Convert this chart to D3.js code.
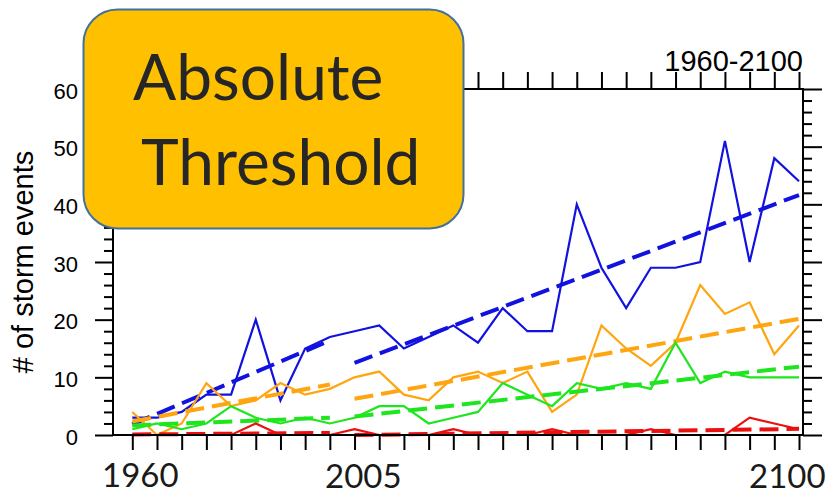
<!DOCTYPE html>
<html>
<head>
<meta charset="utf-8">
<script src="https://cdn.jsdelivr.net/npm/d3@7"></script>
<style>
  html, body { margin: 0; padding: 0; background: #fff; }
  svg { display: block; }
</style>
</head>
<body>
<svg id="chart" width="830" height="494"></svg>
<script>
// ---------- data ----------
const periods = [1960, 1965, 1970, 1975, 1980, 1985, 1990, 1995, 2000, 2005,
                 2010, 2015, 2020, 2025, 2030, 2035, 2040, 2045, 2050, 2055,
                 2060, 2065, 2070, 2075, 2080, 2085, 2090, 2095];
const blueValues   = [3, 3, 4, 7, 7, 20, 6, 15, 17, 18, 19, 15, 17, 19, 16, 22, 18, 18, 40, 29, 22, 29, 29, 30, 51, 30, 48, 44];
const orangeValues = [4, 0, 2, 9, 5, 6, 9, 7, 8, 10, 11, 7, 6, 10, 11, 9, 11, 4, 7, 19, 15, 12, 16, 26, 21, 23, 14, 19];
const greenValues  = [1, 2, 1, 2, 5, 3, 2, 3, 2, 3, 5, 5, 2, 3, 4, 9, 7, 5, 9, 8, 9, 8, 16, 9, 11, 10, 10, 10];
const redValues    = [0, 0, 0, 0, 0, 2, 0, 0, 0, 1, 0, 0, 0, 1, 0, 0, 0, 1, 0, 0, 0, 1, 0, 0, 0, 3, 2, 1];
const trendSegments = [[1960, 2000], [2005, 2095]];   // fitted separately
const yMajorTicks = [0, 10, 20, 30, 40, 50, 60];
const yMinorTicks = [2, 4, 6, 8, 12, 14, 16, 18, 22, 24, 26, 28, 32, 34, 36, 38, 42, 44, 46, 48, 52, 54, 56, 58];
const titleText = "1960-2100";
const yTitle = "# of storm events";
const boxLines = ["Absolute", "Threshold"];
const yearLabels = ["1960", "2005", "2100"];

const series = [
  { name: "blue",   values: blueValues,   color: "#1212e0" },
  { name: "orange", values: orangeValues, color: "#ffa510" },
  { name: "green",  values: greenValues,  color: "#1ee61e" },
  { name: "red",    values: redValues,    color: "#ea1010" }
];

// ---------- layout ----------
const svg = d3.select("#chart");
const frame = { left: 113, right: 803, top: 89, bottom: 435 };
const x = d3.scaleLinear().domain([1960, 2095]).range([132.3, 799]);
const y = d3.scaleLinear().domain([0, 60]).range([frame.bottom, frame.top]);
const numFont = "'Liberation Sans', Arial, Helvetica, sans-serif";
const pptFont = "Lato, 'Open Sans', sans-serif";

// least-squares fit for a period segment
function fit(values, seg) {
  const pts = periods.map((p, i) => [p, values[i]]).filter(d => d[0] >= seg[0] && d[0] <= seg[1]);
  const mx = d3.mean(pts, d => d[0]), my = d3.mean(pts, d => d[1]);
  const sxy = d3.sum(pts, d => (d[0] - mx) * (d[1] - my));
  const sxx = d3.sum(pts, d => (d[0] - mx) ** 2);
  const b = sxy / sxx, a = my - b * mx;
  return [[seg[0], a + b * seg[0]], [seg[1], a + b * seg[1]]];
}

const line = d3.line().x(d => x(d[0])).y(d => y(d[1]));

// series: solid data lines and dashed trends
const gData = svg.append("g");
series.forEach(s => {
  gData.append("path")
    .datum(periods.map((p, i) => [p, s.values[i]]))
    .attr("d", line)
    .attr("fill", "none")
    .attr("stroke", s.color)
    .attr("stroke-width", 2.2)
    .attr("stroke-linejoin", "miter");
  trendSegments.forEach(seg => {
    gData.append("path")
      .datum(fit(s.values, seg))
      .attr("d", line)
      .attr("fill", "none")
      .attr("stroke", s.color)
      .attr("stroke-width", 4)
      .attr("stroke-dasharray", "19,8");
  });
});

// frame
svg.append("rect")
  .attr("x", frame.left).attr("y", frame.top)
  .attr("width", frame.right - frame.left).attr("height", frame.bottom - frame.top)
  .attr("fill", "none").attr("stroke", "#000").attr("stroke-width", 2);

function styleAxis(g) {
  g.select(".domain").remove();
  g.selectAll(".tick line").attr("stroke", "#000").attr("stroke-width", 2);
}

// left axis
svg.append("g").attr("transform", `translate(${frame.left},0)`)
  .call(d3.axisLeft(y).tickValues(yMajorTicks).tickSize(18).tickPadding(17).tickFormat(d3.format("d")))
  .call(styleAxis)
  .call(g => g.selectAll(".tick text")
    .attr("font-family", numFont).attr("font-size", 22).attr("fill", "#000").attr("dy", "0.42em"));
svg.append("g").attr("transform", `translate(${frame.left},0)`)
  .call(d3.axisLeft(y).tickValues(yMinorTicks).tickSize(9).tickFormat(""))
  .call(styleAxis);

// right axis
svg.append("g").attr("transform", `translate(${frame.right},0)`)
  .call(d3.axisRight(y).tickValues(yMajorTicks).tickSize(19).tickFormat(""))
  .call(styleAxis);
svg.append("g").attr("transform", `translate(${frame.right},0)`)
  .call(d3.axisRight(y).tickValues(yMinorTicks).tickSize(9).tickFormat(""))
  .call(styleAxis);

// bottom & top axes
svg.append("g").attr("transform", `translate(0,${frame.bottom})`)
  .call(d3.axisBottom(x).tickValues(periods).tickSize(15).tickFormat(""))
  .call(styleAxis);
svg.append("g").attr("transform", `translate(0,${frame.top})`)
  .call(d3.axisTop(x).tickValues(periods).tickSize(17).tickFormat(""))
  .call(styleAxis);

// title
svg.append("text")
  .attr("x", frame.right).attr("y", 70.5)
  .attr("text-anchor", "end")
  .attr("font-family", numFont).attr("font-size", 29)
  .attr("fill", "#000")
  .text(titleText);

// y title
svg.append("text")
  .attr("transform", `translate(33,${(frame.top + frame.bottom) / 2}) rotate(-90)`)
  .attr("text-anchor", "middle")
  .attr("font-family", numFont).attr("font-size", 29)
  .attr("fill", "#000")
  .text(yTitle);

// overlay box
svg.append("rect")
  .attr("x", 83.5).attr("y", 9.5).attr("width", 380).attr("height", 219)
  .attr("rx", 34).attr("ry", 34)
  .attr("fill", "#ffc000").attr("stroke", "#41719c").attr("stroke-width", 2);
const boxPos = [[133, 100], [141, 185]];
boxLines.forEach((t, i) => {
  svg.append("text")
    .attr("x", boxPos[i][0]).attr("y", boxPos[i][1])
    .attr("font-family", pptFont).attr("font-size", 64)
    .attr("fill", "#262626")
    .text(t);
});

// overlay year labels
const yearPos = [[102, 487], [325, 488], [749, 488]];
yearLabels.forEach((t, i) => {
  svg.append("text")
    .attr("x", yearPos[i][0]).attr("y", yearPos[i][1])
    .attr("font-family", pptFont).attr("font-size", 33)
    .attr("fill", "#1a1a1a")
    .text(t);
});
</script>
</body>
</html>
